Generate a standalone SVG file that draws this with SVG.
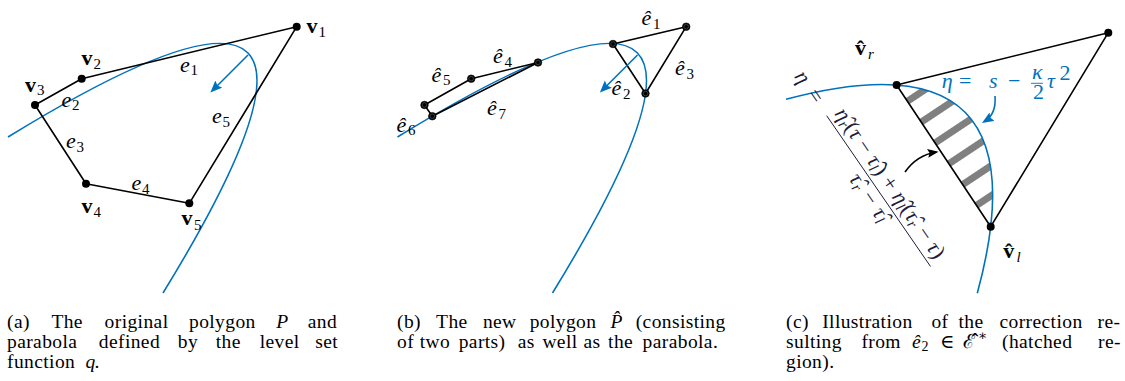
<svg xmlns="http://www.w3.org/2000/svg" width="1125" height="381" viewBox="0 0 1125 381">
<style>
.edge{stroke:#000;stroke-width:1.6;fill:none;stroke-linecap:round;stroke-linejoin:round}
.para{stroke:#0072BD;stroke-width:1.6;fill:none}
.dot{fill:#000}
.dot2{fill:#000;stroke:#000;stroke-width:0.6}
.ring{fill:none;stroke:#4a4a4a;stroke-width:0.8}
.m{font-family:"Liberation Serif","DejaVu Serif",serif;font-size:22px;fill:#000}
.it{font-style:italic}
.bd{font-weight:bold}
.sub{font-size:15px;font-style:normal;font-weight:normal}
.subi{font-size:15px;font-style:italic;font-weight:normal}
.cap{font-family:"Liberation Serif","DejaVu Serif",serif;font-size:19.5px;letter-spacing:0.4px;fill:#000}
.blue{fill:#0072BD}
.navy{fill:#1c1c3c}
</style>
<defs>
<marker id="arrB" markerWidth="14" markerHeight="11" refX="9" refY="5" orient="auto" markerUnits="userSpaceOnUse"><path d="M0,0 L12,5 L0,10 L2,5 Z" fill="#0072BD"/></marker>
<marker id="arrK" markerWidth="14" markerHeight="11" refX="9" refY="5" orient="auto" markerUnits="userSpaceOnUse"><path d="M0,0.5 L11,5 L0,9.5 L2,5 Z" fill="#000"/></marker>
<path id="parab" d="M8,137 Q410,-109.5 163,293"/>
<pattern id="hatch" patternUnits="userSpaceOnUse" width="25" height="25" patternTransform="rotate(-33.6)">
<rect x="0" y="8" width="25" height="7" fill="#808080"/>
</pattern>
<clipPath id="segClip"><path d="M896.6,85 L990.7,226.7 Q1006.3,93.1 896.6,85 Z"/></clipPath>
</defs>

<!-- Panel (a) -->
<g id="panel-a">
<g id="connectors-a">
<use href="#parab" class="para"/>
<path class="edge" d="M296.7,26.7 L81.7,78.7 L35,105 L86,183.7 L189.3,203.3 Z"/>
<path d="M248,55 L212.5,90.5" stroke="#0072BD" stroke-width="1.6" fill="none" marker-end="url(#arrB)"/>
</g>
<g id="v1"><circle class="dot" cx="296.7" cy="26.7" r="4"/><text class="m bd" x="306.5" y="33">v<tspan class="sub" x="318.5" y="36.5">1</tspan></text></g>
<g id="v2"><circle class="dot" cx="81.7" cy="78.7" r="4"/><text class="m bd" x="81.5" y="65">v<tspan class="sub" x="93.5" y="68.5">2</tspan></text></g>
<g id="v3"><circle class="dot" cx="35" cy="105" r="4"/><text class="m bd" x="25" y="91.5">v<tspan class="sub" x="37" y="95">3</tspan></text></g>
<g id="v4"><circle class="dot" cx="86" cy="183.7" r="4"/><text class="m bd" x="81.5" y="213">v<tspan class="sub" x="93.5" y="216.5">4</tspan></text></g>
<g id="v5"><circle class="dot" cx="189.3" cy="203.3" r="4"/><text class="m bd" x="181.5" y="225">v<tspan class="sub" x="194" y="229.5">5</tspan></text></g>
<g id="edge-labels-a">
<text class="m it" x="180" y="71.5">e<tspan class="sub" x="190.5" y="75">1</tspan></text>
<text class="m it" x="61.5" y="106.5">e<tspan class="sub" x="72" y="110">2</tspan></text>
<text class="m it" x="66" y="148">e<tspan class="sub" x="76.5" y="151.5">3</tspan></text>
<text class="m it" x="131.5" y="190">e<tspan class="sub" x="142" y="193.5">4</tspan></text>
<text class="m it" x="212" y="123">e<tspan class="sub" x="222.5" y="126.5">5</tspan></text>
</g>
</g>

<!-- Panel (b) -->
<g id="panel-b">
<g id="connectors-b">
<use href="#parab" class="para" transform="translate(389.5,0)"/>
<path class="edge" d="M538,62.5 L471.2,78.7 L424.5,105 L432.3,116.2 Z"/>
<path class="edge" d="M613,44 L686.2,26.7 L645.5,93.5 Z"/>
<path d="M637.5,55 L602,90.5" stroke="#0072BD" stroke-width="1.6" fill="none" marker-end="url(#arrB)"/>
</g>
<g id="b-D"><circle class="dot2" cx="538" cy="62.5" r="3.8"/><circle class="ring" cx="538" cy="62.5" r="2.3"/></g>
<g id="b-E"><circle class="dot2" cx="471.2" cy="78.7" r="3.8"/><circle class="ring" cx="471.2" cy="78.7" r="2.3"/></g>
<g id="b-F"><circle class="dot2" cx="424.5" cy="105" r="3.8"/><circle class="ring" cx="424.5" cy="105" r="2.3"/></g>
<g id="b-G"><circle class="dot2" cx="432.3" cy="116.2" r="3.8"/><circle class="ring" cx="432.3" cy="116.2" r="2.3"/></g>
<g id="b-A"><circle class="dot2" cx="613" cy="44" r="3.8"/><circle class="ring" cx="613" cy="44" r="2.3"/></g>
<g id="b-B"><circle class="dot2" cx="686.2" cy="26.7" r="3.8"/><circle class="ring" cx="686.2" cy="26.7" r="2.3"/></g>
<g id="b-C"><circle class="dot2" cx="645.5" cy="93.5" r="3.8"/><circle class="ring" cx="645.5" cy="93.5" r="2.3"/></g>
<g id="edge-labels-b">
<text class="m it" x="641.5" y="25">ê<tspan class="sub" x="653" y="28.5">1</tspan></text>
<text class="m it" x="611.5" y="95">ê<tspan class="sub" x="623" y="98.5">2</tspan></text>
<text class="m it" x="675" y="75">ê<tspan class="sub" x="686.5" y="78.5">3</tspan></text>
<text class="m it" x="493" y="63">ê<tspan class="sub" x="504.5" y="66.5">4</tspan></text>
<text class="m it" x="431.5" y="81.5">ê<tspan class="sub" x="443" y="85">5</tspan></text>
<text class="m it" x="396.5" y="131.5">ê<tspan class="sub" x="408" y="135">6</tspan></text>
<text class="m it" x="487" y="115">ê<tspan class="sub" x="498.5" y="118.5">7</tspan></text>
</g>
</g>

<!-- Panel (c) -->
<g id="panel-c">
<g id="hatched-region"><rect x="890" y="80" width="120" height="155" fill="url(#hatch)" clip-path="url(#segClip)"/></g>
<g id="connectors-c">
<path class="para" d="M786,99.3 Q1049,28.8 977.3,293.3"/>
<path class="edge" d="M896.6,85 L1108.3,32.7 L990.7,226.7 Z"/>
<path d="M995,96 Q996.5,114 984.5,121.5" stroke="#0072BD" stroke-width="1.6" fill="none" marker-end="url(#arrB)"/>
<path d="M905,172 Q917,155 936.5,152" stroke="#000" stroke-width="1.6" fill="none" marker-end="url(#arrK)"/>
</g>
<g id="vr"><circle class="dot" cx="896.6" cy="85" r="4"/><text class="m bd" x="855" y="55">v̂<tspan class="subi" x="868" y="58.5">r</tspan></text></g>
<g id="vtop"><circle class="dot" cx="1108.3" cy="32.7" r="4"/></g>
<g id="vl"><circle class="dot" cx="990.7" cy="226.7" r="4"/><text class="m bd" x="1003.3" y="258">v̂<tspan class="subi" x="1016.5" y="261.5">l</tspan></text></g>
<g id="parabola-label" class="blue">
<text class="m it blue" x="941.7" y="88">η</text>
<text class="m blue" x="959" y="88">=</text>
<text class="m it blue" x="989" y="88">s</text>
<text class="m blue" x="1008" y="88">−</text>
<text class="m it blue" x="1032" y="78.5" font-size="13.5">κ</text>
<line x1="1031" y1="83.3" x2="1043" y2="83.3" stroke="#0072BD" stroke-width="0.9"/>
<text class="m blue" x="1033" y="99" font-size="13.5">2</text>
<text class="m it blue" x="1047" y="88">τ</text>
<text class="m blue" x="1059.5" y="80" font-size="15">2</text>
</g>
<g id="chord-label" transform="translate(826.7,115.7) rotate(55.45)">
<text class="m it navy" x="-51" y="5">η</text>
<text class="m navy" x="-29" y="5">=</text>
<line x1="0" y1="0" x2="183" y2="0" stroke="#1c1c3c" stroke-width="0.9"/>
<text class="m navy" x="91.5" y="-7" text-anchor="middle" textLength="178" lengthAdjust="spacing"><tspan font-style="italic">η̂</tspan><tspan class="subi" dy="3">r</tspan><tspan dy="-3">(</tspan><tspan font-style="italic">τ</tspan><tspan> − </tspan><tspan font-style="italic">τ̂</tspan><tspan class="subi" dy="3">l</tspan><tspan dy="-3">) + </tspan><tspan font-style="italic">η̂</tspan><tspan class="subi" dy="3">l</tspan><tspan dy="-3">(</tspan><tspan font-style="italic">τ̂</tspan><tspan class="subi" dy="3">r</tspan><tspan dy="-3"> − </tspan><tspan font-style="italic">τ</tspan><tspan>)</tspan></text>
<text class="m navy" x="91.5" y="18" text-anchor="middle" textLength="54" lengthAdjust="spacing"><tspan font-style="italic">τ̂</tspan><tspan class="subi" dy="3">r</tspan><tspan dy="-3"> − </tspan><tspan font-style="italic">τ̂</tspan><tspan class="subi" dy="3">l</tspan></text>
</g>
</g>

<!-- Captions -->
<g id="caption-a">
<text class="cap" y="327.5"><tspan x="7">(a)</tspan><tspan x="51.4">The</tspan><tspan x="104.6">original</tspan><tspan x="189">polygon</tspan><tspan x="276.2" font-style="italic">P</tspan><tspan x="307.8">and</tspan></text>
<text class="cap" y="347.5"><tspan x="7">parabola</tspan><tspan x="98.8">defined</tspan><tspan x="177.8">by</tspan><tspan x="215.7">the</tspan><tspan x="259.7">level</tspan><tspan x="315.3">set</tspan></text>
<text class="cap" y="367.5"><tspan x="7">function</tspan><tspan x="85.4" font-style="italic">q</tspan><tspan x="94.6">.</tspan></text>
</g>
<g id="caption-b">
<text class="cap" y="327.5"><tspan x="397">(b)</tspan><tspan x="436.1">The</tspan><tspan x="482.9">new</tspan><tspan x="529.7">polygon</tspan><tspan x="610.5" font-style="italic">P̂</tspan><tspan x="635.7">(consisting</tspan></text>
<text class="cap" y="347.5"><tspan x="397">of</tspan><tspan x="419.8">two</tspan><tspan x="458.7">parts)</tspan><tspan x="517.8">as</tspan><tspan x="542.4">well</tspan><tspan x="583.5">as</tspan><tspan x="608.1">the</tspan><tspan x="642.6">parabola.</tspan></text>
</g>
<g id="caption-c">
<text class="cap" y="327.5"><tspan x="786">(c)</tspan><tspan x="822.2">Illustration</tspan><tspan x="931.4">of</tspan><tspan x="958.5">the</tspan><tspan x="999.5">correction</tspan><tspan x="1097.5">re-</tspan></text>
<text class="cap" y="347.5"><tspan x="786">sulting</tspan><tspan x="861.4">from</tspan><tspan x="912" font-style="italic">ê</tspan><tspan x="921.5" y="351" font-size="14">2</tspan><tspan x="940" y="347.5">∈</tspan><tspan x="963">ℰ̂</tspan><tspan x="978" y="340" font-size="14">∗</tspan><tspan x="1002" y="347.5">(hatched</tspan><tspan x="1098">re-</tspan></text>
<text class="cap" y="367.5"><tspan x="786">gion).</tspan></text>
</g>
</svg>
